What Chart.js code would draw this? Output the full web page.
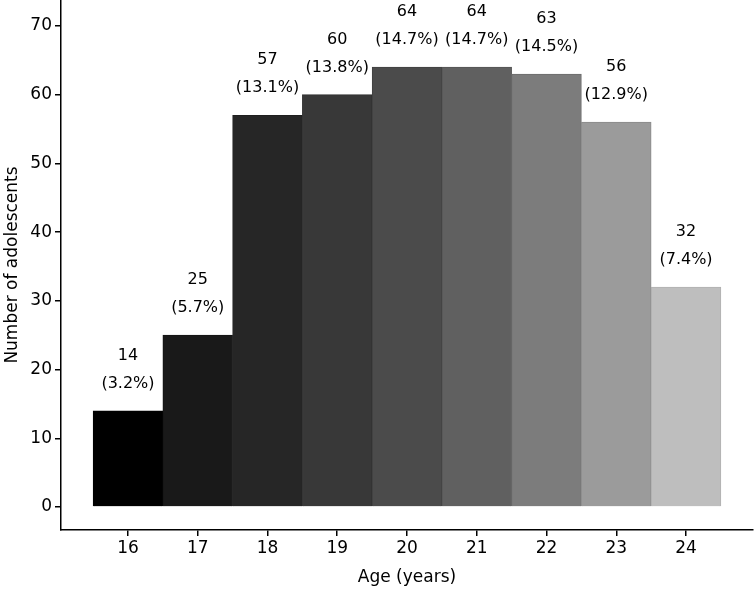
<!DOCTYPE html>
<html lang="en">
<head>
  <meta charset="UTF-8">
  <title>Age of adolescents</title>
  <script src="https://cdn.jsdelivr.net/npm/chart.js"></script>
  <style>
    html, body {
      margin: 0;
      padding: 0;
      background-color: white;
    }
    #wrap {
      width: 756px;
      height: 594px;
    }
  </style>
</head>
<body>
  <div id="wrap"><canvas id="grafico"></canvas></div>

  <script>
    const ages = [16, 17, 18, 19, 20, 21, 22, 23, 24];
    const counts = [14, 25, 57, 60, 64, 64, 63, 56, 32];
    const percents = ['3.2%', '5.7%', '13.1%', '13.8%', '14.7%', '14.7%', '14.5%', '12.9%', '7.4%'];
    const fills = ['#000000', '#191919', '#262626', '#383838', '#4b4b4b', '#606060', '#7c7c7c', '#9b9b9b', '#bebebe'];
    const edges = ['#000000', '#141414', '#1f1f1f', '#303030', '#404040', '#555555', '#6c6c6c', '#8a8a8a', '#b0b0b0'];
    const yTicks = [0, 10, 20, 30, 40, 50, 60, 70];

    const fuente = "'DejaVu Sans', sans-serif";

    // etiquetas encima de cada barra: n y (porcentaje)
    const etiquetas = {
      id: 'etiquetas',
      afterDatasetsDraw(chart) {
        const ctx = chart.ctx;
        const meta = chart.getDatasetMeta(0);
        ctx.save();
        ctx.fillStyle = '#000';
        ctx.font = '16px ' + fuente;
        ctx.textAlign = 'center';
        ctx.textBaseline = 'middle';
        meta.data.forEach((bar, i) => {
          ctx.fillText(String(counts[i]), bar.x, bar.y - 55);
          ctx.fillText('(' + percents[i] + ')', bar.x, bar.y - 27);
        });
        ctx.restore();
      }
    };

    const ctx = document.getElementById('grafico').getContext('2d');
    new Chart(ctx, {
      type: 'bar',
      data: {
        datasets: [{
          data: ages.map((a, i) => ({ x: a, y: counts[i] })),
          backgroundColor: fills,
          borderColor: edges,
          borderWidth: 1,
          barPercentage: 1,
          categoryPercentage: 1
        }]
      },
      options: {
        responsive: true,
        maintainAspectRatio: false,
        animation: false,
        layout: { padding: { top: 0, right: 3, left: 0, bottom: 0 } },
        plugins: {
          legend: { display: false },
          tooltip: { enabled: false }
        },
        scales: {
          x: {
            type: 'linear',
            min: 15.04,
            max: 24.96,
            offset: false,
            afterBuildTicks: s => { s.ticks = ages.map(v => ({ value: v })); },
            afterFit: s => { s.height = 64; s.paddingLeft = 0; s.paddingRight = 0; },
            grid: { offset: false, drawOnChartArea: false, drawTicks: true, tickLength: 6, color: '#000', lineWidth: 1.5, tickColor: '#000', tickWidth: 1.5 },
            border: { display: true, color: '#000', width: 1.5 },
            ticks: { color: '#000', padding: 2, font: { family: fuente, size: 17 } },
            title: {
              display: true,
              text: 'Age (years)',
              color: '#000',
              padding: { top: 0, bottom: 6 },
              font: { family: fuente, size: 17 }
            }
          },
          y: {
            min: -3.35,
            max: 73.78,
            afterBuildTicks: s => { s.ticks = yTicks.map(v => ({ value: v })); },
            afterFit: s => { s.width = 61; s.paddingTop = 0; s.paddingBottom = 0; },
            grid: { drawOnChartArea: false, drawTicks: true, tickLength: 6, color: '#000', lineWidth: 1.5, tickColor: '#000', tickWidth: 1.5 },
            border: { display: true, color: '#000', width: 1.5 },
            ticks: { color: '#000', padding: 3, font: { family: fuente, size: 17 } },
            title: {
              display: true,
              text: 'Number of adolescents',
              color: '#000',
              padding: { top: 2, bottom: 0 },
              font: { family: fuente, size: 17 }
            }
          }
        }
      },
      plugins: [etiquetas]
    });
  </script>
</body>
</html>
